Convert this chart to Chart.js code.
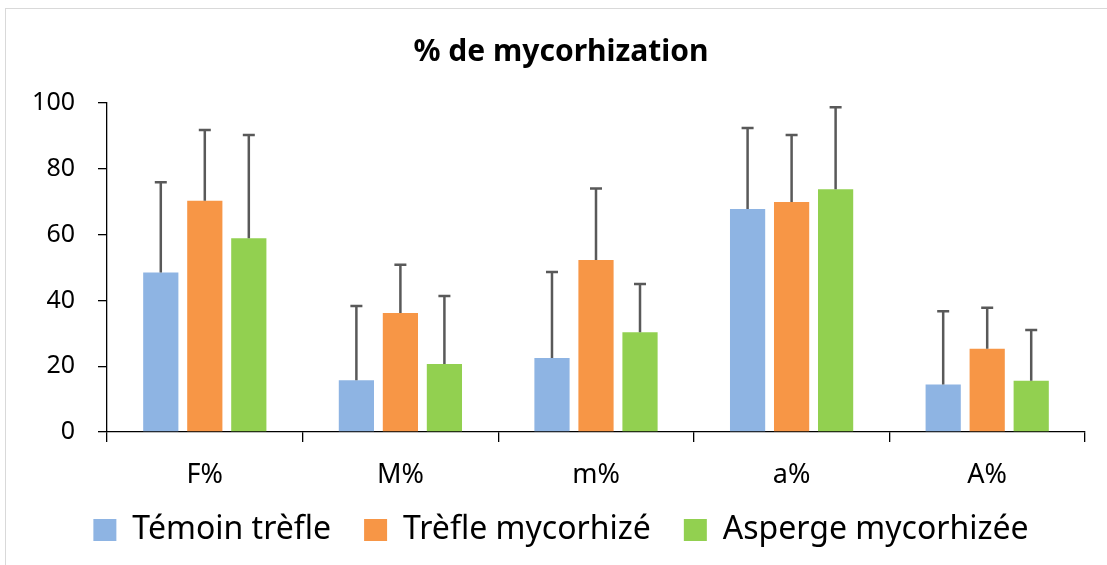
<!DOCTYPE html>
<html>
<head>
<meta charset="utf-8">
<script src="https://cdn.jsdelivr.net/npm/chart.js@4/dist/chart.umd.min.js"></script>
<style>
  body { margin: 0; overflow: hidden; background: #fff; }
  #cadre { position: absolute; left: 5px; top: 8px; width: 1140px; height: 600px; border: 1px solid #d9d9d9; }
  #zone { position: absolute; left: 0; top: 0; width: 1112px; height: 556px; }
</style>
</head>
<body>
<div id="cadre"><div id="zone"><canvas id="graph_1"></canvas></div></div>
<script>
// catégories (axe X)
var categories = ['F%', 'M%', 'm%', 'a%', 'A%'];
// moyennes par série
var temoinTrefle = [48.5, 15.7, 22.5, 67.8, 14.4];
var trefleMyco = [70.3, 36.2, 52.3, 69.9, 25.3];
var aspergeMyco = [58.9, 20.7, 30.3, 73.8, 15.6];
// écarts (barres d'erreur, vers le haut)
var errTemoin = [27.4, 22.6, 26.1, 24.6, 22.3];
var errTrefle = [21.5, 14.6, 21.7, 20.4, 12.5];
var errAsperge = [31.4, 20.6, 14.7, 24.9, 15.4];
// graduations Y
var yTicks = [0, 20, 40, 60, 80, 100];

Chart.defaults.font.family = "'Noto Sans'";
Chart.defaults.color = '#000';

// dessine les barres d'erreur à partir des données
var errorBars = {
    id: 'errorBars',
    afterDatasetsDraw: function(chart) {
        var ctx = chart.ctx;
        var y = chart.scales.y;
        ctx.save();
        ctx.strokeStyle = '#595959';
        ctx.lineWidth = 2.5;
        chart.data.datasets.forEach(function(ds, i) {
            var meta = chart.getDatasetMeta(i);
            meta.data.forEach(function(bar, j) {
                var top = y.getPixelForValue(ds.data[j] + ds.errors[j]);
                ctx.beginPath();
                ctx.moveTo(bar.x, bar.y);
                ctx.lineTo(bar.x, top);
                ctx.moveTo(bar.x - 6, top);
                ctx.lineTo(bar.x + 6, top);
                ctx.stroke();
            });
        });
        ctx.restore();
    }
};

// élargit les zones de libellés des axes (sinon coupés)
var labelRoom = {
    id: 'labelRoom',
    afterLayout: function(chart) {
        chart.scales.x.bottom = chart.scales.x.top + 80;
        chart.scales.y.left = 0;
    }
};

var ctx = document.getElementById('graph_1');
new Chart(ctx, {
    type: 'bar',
    data: {
        labels: categories,
        datasets: [
            { label: 'Témoin trèfle', data: temoinTrefle, errors: errTemoin, backgroundColor: '#8EB4E3' },
            { label: 'Trèfle mycorhizé', data: trefleMyco, errors: errTrefle, backgroundColor: '#F79646' },
            { label: 'Asperge mycorhizée', data: aspergeMyco, errors: errAsperge, backgroundColor: '#92D050' }
        ]
    },
    options: {
        responsive: true,
        maintainAspectRatio: false,
        animation: false,
        categoryPercentage: 0.675,
        barPercentage: 0.8,
        layout: { padding: { left: 31, right: 33, top: 0, bottom: 9 } },
        plugins: {
            tooltip: { enabled: false },
            title: {
                display: true,
                text: '% de mycorhization',
                color: '#000',
                font: { size: 30, weight: 'bold' },
                padding: { top: 25, bottom: 33 }
            },
            legend: {
                position: 'bottom',
                labels: {
                    boxWidth: 23,
                    boxHeight: 22,
                    padding: 33,
                    font: { size: 32 },
                    color: '#000'
                }
            }
        },
        scales: {
            x: {
                grid: { drawOnChartArea: false, tickLength: 10, color: '#000', lineWidth: 1.3 },
                border: { color: '#000', width: 1.3 },
                ticks: { font: { size: 27 }, padding: 17, color: '#000' },
                afterFit: function(s) { s.height = 49; }
            },
            y: {
                min: 0,
                max: 100,
                afterBuildTicks: function(s) { s.ticks = yTicks.map(function(v) { return { value: v }; }); },
                grid: { drawOnChartArea: false, tickLength: 9, color: '#000', lineWidth: 1.3 },
                border: { color: '#000', width: 1.3 },
                ticks: { font: { size: 25 }, padding: 23, color: '#000' },
                afterFit: function(s) { s.width = 70; }
            }
        }
    },
    plugins: [errorBars, labelRoom]
});
</script>
</body>
</html>
